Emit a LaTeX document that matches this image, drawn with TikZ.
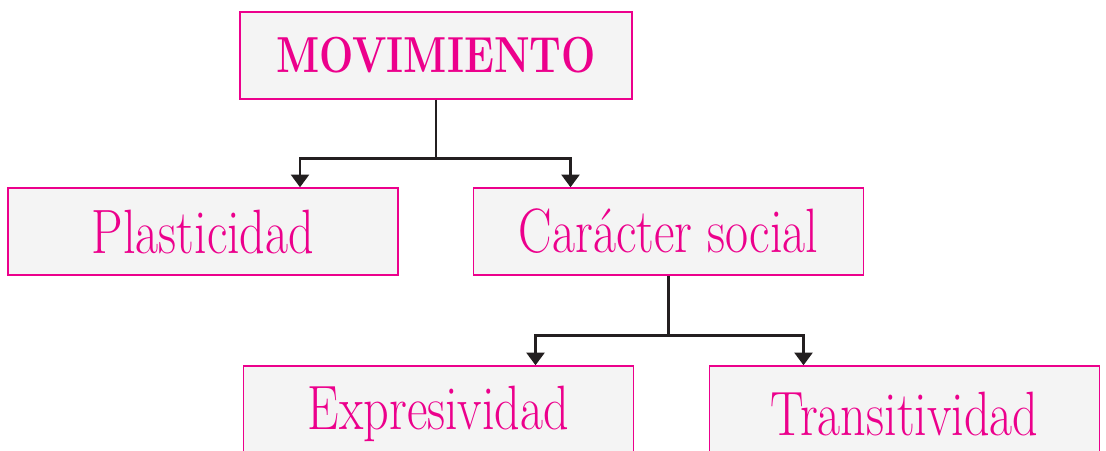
\documentclass[tikz,border=0pt]{standalone}
\usepackage{fontspec}
\setmainfont{Latin Modern Roman}[FakeStretch=0.8]
\usepackage{tikz}
\usetikzlibrary{arrows.meta, positioning, calc}
\definecolor{rosa}{RGB}{236,0,140}
\definecolor{fondo}{RGB}{244,244,244}
\definecolor{linea}{RGB}{35,31,32}

\begin{document}
\begin{tikzpicture}[
  x=0.75pt, y=-0.75pt,
  concepto/.style={draw=rosa, line width=1.1pt, fill=fondo, text=rosa, minimum width=292.5pt, minimum height=65.25pt, inner sep=0pt, font=\fontsize{47}{52}\selectfont},
  titulo/.style={concepto, minimum width=294pt, font=\fontsize{38}{42}\selectfont\bfseries},
  enlace/.style={draw=linea, line width=1.9pt, line join=miter},
  flecha/.style={enlace, -{Triangle[width=13.5pt, length=9.5pt]}}
]
\useasboundingbox (0,0) rectangle (1106,450);
\clip (0,0) rectangle (1106,450);

% Nodes
\node[titulo] (mov) at (436,55.5) {MOVIMIENTO};
\node[concepto] (plast) at (203,231.5) {Plasticidad};
\node[concepto] (social) at (668.5,231.5) {Carácter social};
% bottom row is cut by the page edge
\node[concepto, minimum height=72pt] (expr) at (438.5,414) {Expresividad};
\node[concepto, minimum height=72pt] (trans) at (904.5,414) {Transitividad};

% Connectors
\draw[enlace] (mov.south) -- ++(0,59) coordinate (j1);
\draw[flecha] (j1) -| ($(plast.north)+(97,0)$);
\draw[flecha] (j1) -| ($(social.north)+(-98,0)$);

\draw[enlace] (social.south) -- ++(0,60) coordinate (j2);
\draw[flecha] (j2) -| ($(expr.north)+(97,0)$);
\draw[flecha] (j2) -| ($(trans.north)+(-101,0)$);

\end{tikzpicture}
\end{document}
